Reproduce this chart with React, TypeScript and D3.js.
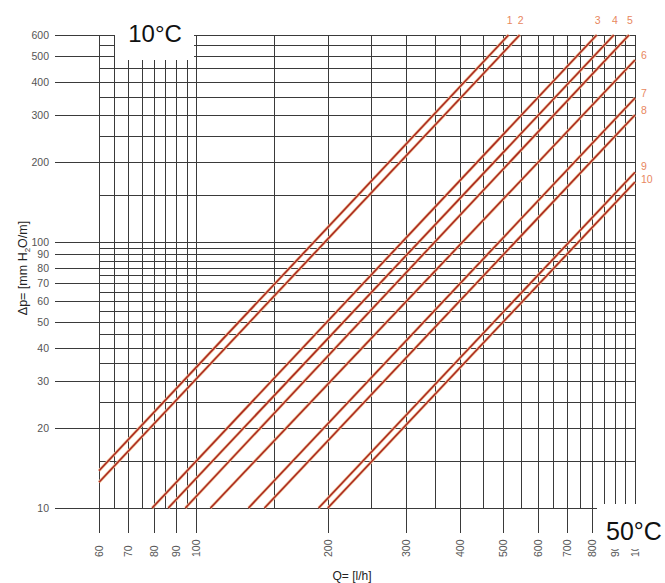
import { useEffect, useRef } from 'react';
import * as d3 from 'd3';

// flow rate Q [l/h] - labelled ticks and grid lines
const flowTicks = [60, 70, 80, 90, 100, 200, 300, 400, 500, 600, 700, 800, 900, 1000];
const flowGrid = [60, 65, 70, 75, 80, 85, 90, 95, 100, 150, 200, 250, 300, 350, 400, 450, 500, 550, 600, 650, 700, 750, 800, 850, 900, 950, 1000];

// pressure drop dp [mm H2O/m]
const dpTicks = [10, 20, 30, 40, 50, 60, 70, 80, 90, 100, 200, 300, 400, 500, 600];
const dpGrid = [10, 15, 20, 25, 30, 35, 40, 45, 50, 55, 60, 65, 70, 75, 80, 85, 90, 95, 100, 150, 200, 250, 300, 350, 400, 450, 500, 550, 600];

// pipe curves, read at their two ends
const curveIds = ['1', '2', '3', '4', '5', '6', '7', '8', '9', '10'];
const curveStartQ = [60, 60, 79.3, 86.3, 94.4, 107.7, 131.5, 143, 190, 199.4];
const curveStartDp = [13.8, 12.5, 10, 10, 10, 10, 10, 10, 10, 10];
const curveEndQ = [515, 546, 818, 895, 969, 1000, 1000, 1000, 1000, 1000];
const curveEndDp = [600, 600, 600, 600, 600, 483, 348, 300, 183, 168];

export default function App() {
  const svgRef = useRef<SVGSVGElement>(null);

  useEffect(() => {
    if (!svgRef.current) return;
    const svg = d3.select(svgRef.current);
    svg.selectAll('*').remove();

    const left = 99, right = 635, top = 35, bottom = 508;
    const font = '"Liberation Sans", Arial, sans-serif';

    const x = d3.scaleLog().domain([60, 1000]).range([left, right]);
    const y = d3.scaleLog().domain([10, 600]).range([bottom, top]);

    svg.append('rect').attr('width', 665).attr('height', 583).attr('fill', '#fff');

    const grid = svg.append('g').attr('stroke', '#3a3a3a').attr('stroke-width', 1);

    grid.selectAll('.h')
      .data(dpGrid)
      .enter().append('line')
      .attr('x1', d => (dpTicks.includes(d) ? 55 : left))
      .attr('x2', right)
      .attr('y1', d => Math.round(y(d)) + 0.5)
      .attr('y2', d => Math.round(y(d)) + 0.5);

    grid.selectAll('.v')
      .data(flowGrid)
      .enter().append('line')
      .attr('x1', d => Math.round(x(d)) + 0.5)
      .attr('x2', d => Math.round(x(d)) + 0.5)
      .attr('y1', top)
      .attr('y2', d => (flowTicks.includes(d) ? 533 : bottom));

    // y tick labels
    svg.append('g')
      .selectAll('text')
      .data(dpTicks)
      .enter().append('text')
      .attr('x', 49)
      .attr('y', d => y(d) + 4)
      .attr('text-anchor', 'end')
      .attr('font-family', font)
      .attr('font-size', 10.5)
      .attr('fill', '#555')
      .text(d => d);

    // x tick labels, rotated
    svg.append('g')
      .selectAll('text')
      .data(flowTicks)
      .enter().append('text')
      .attr('transform', d => `translate(${x(d) + 4},557) rotate(-90)`)
      .attr('text-anchor', 'start')
      .attr('font-family', font)
      .attr('font-size', 10.5)
      .attr('fill', '#555')
      .text(d => d);

    // curves
    const line = d3.line<[number, number]>()
      .x(d => x(d[0]))
      .y(d => y(d[1]));

    const curves = curveIds.map((id, i) => ({
      id,
      pts: [[curveStartQ[i], curveStartDp[i]], [curveEndQ[i], curveEndDp[i]]] as [number, number][],
    }));

    const cg = svg.append('g');
    cg.selectAll('.halo')
      .data(curves)
      .enter().append('path')
      .attr('d', d => line(d.pts))
      .attr('fill', 'none')
      .attr('stroke', '#f0c49a')
      .attr('stroke-width', 3);
    cg.selectAll('.core')
      .data(curves)
      .enter().append('path')
      .attr('d', d => line(d.pts))
      .attr('fill', 'none')
      .attr('stroke', '#ab2a20')
      .attr('stroke-width', 1.6);

    // curve numbers: above the top edge or right of the right edge
    const labels = curves.map(d => {
      const atTop = d.pts[1][1] >= 600;
      return {
        id: d.id,
        atTop,
        lx: atTop ? x(d.pts[1][0]) + 1 : right + 6,
        ly: atTop ? 24 : y(d.pts[1][1]) - 1,
      };
    });
    const side = labels.filter(l => !l.atTop);
    for (let i = 1; i < side.length; i++) {
      if (side[i].ly - side[i - 1].ly < 13) {
        const shift = (13 - (side[i].ly - side[i - 1].ly)) / 2;
        side[i - 1].ly -= shift;
        side[i].ly += shift;
      }
    }

    svg.append('g')
      .selectAll('text')
      .data(labels)
      .enter().append('text')
      .attr('x', d => d.lx)
      .attr('y', d => d.ly)
      .attr('text-anchor', d => (d.atTop ? 'middle' : 'start'))
      .attr('font-family', font)
      .attr('font-size', 10.5)
      .attr('fill', '#e8875e')
      .text(d => d.id);

    // temperature boxes
    svg.append('rect').attr('x', 115).attr('y', 14).attr('width', 79).attr('height', 46).attr('fill', '#fff');
    svg.append('text')
      .attr('x', 155).attr('y', 42)
      .attr('text-anchor', 'middle')
      .attr('font-family', font)
      .attr('font-size', 24)
      .attr('fill', '#111')
      .text('10°C');

    svg.append('rect').attr('x', 597).attr('y', 504).attr('width', 68).attr('height', 45).attr('fill', '#fff');
    svg.append('text')
      .attr('x', 634).attr('y', 540)
      .attr('text-anchor', 'middle')
      .attr('font-family', font)
      .attr('font-size', 25)
      .attr('fill', '#111')
      .text('50°C');

    // axis titles
    const yt = svg.append('text')
      .attr('transform', 'translate(27,268) rotate(-90)')
      .attr('text-anchor', 'middle')
      .attr('font-family', font)
      .attr('font-size', 12.5)
      .attr('fill', '#222');
    yt.append('tspan').text('Δp= [mm H');
    yt.append('tspan').attr('font-size', 8).attr('dy', 3).text('2');
    yt.append('tspan').attr('dy', -3).text('O/m]');

    svg.append('text')
      .attr('x', 352).attr('y', 580)
      .attr('text-anchor', 'middle')
      .attr('font-family', font)
      .attr('font-size', 12)
      .attr('fill', '#222')
      .text('Q= [l/h]');
  }, []);

  return (
    <svg
      ref={svgRef}
      width={665}
      height={583}
      style={{ position: 'absolute', left: 0, top: 0 }}
    ></svg>
  );
}
